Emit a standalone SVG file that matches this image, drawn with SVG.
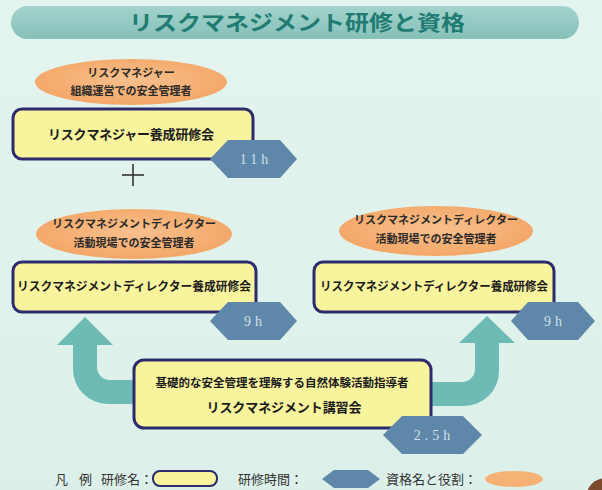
<svg xmlns="http://www.w3.org/2000/svg" width="602" height="490" viewBox="0 0 602 490">
<defs>
<linearGradient id="bg" x1="0" y1="0" x2="0" y2="1">
<stop offset="0" stop-color="#e4f4ef"/>
<stop offset="1" stop-color="#dcf0e9"/>
</linearGradient>
<linearGradient id="bar" x1="0" y1="0" x2="0" y2="1">
<stop offset="0" stop-color="#a3d3cd"/>
<stop offset="1" stop-color="#86c0b9"/>
</linearGradient>
<radialGradient id="ell" cx="0.5" cy="0.45" r="0.6">
<stop offset="0" stop-color="#f8c08e"/>
<stop offset="1" stop-color="#f3a463"/>
</radialGradient>
<style>
.box{fill:#f8f39d;stroke:#2d2b6e;stroke-width:3}
.ell{fill:url(#ell)}
.hex{fill:#5e87a9}
.arrow{fill:#6dbbb4}
.bt{font-family:"Noto Sans CJK JP","Noto Sans",sans-serif;font-weight:bold;fill:#1b1b1b;text-anchor:middle}
.et{font-family:"Noto Sans CJK JP","Noto Sans",sans-serif;font-weight:bold;fill:#2a2a2a;text-anchor:middle;font-size:11px}
.ht{font-family:"Liberation Serif",serif;fill:#d3e0ea;text-anchor:middle;font-size:14px;letter-spacing:4px}
.lt{font-family:"Noto Sans CJK JP","Noto Sans",sans-serif;fill:#333;font-size:13px}
</style>
</defs>
<rect width="602" height="490" fill="url(#bg)"/>
<g id="title">
<rect x="11" y="6" width="568" height="33" rx="16.5" fill="url(#bar)"/>
<text x="297" y="30" font-family="'Noto Sans CJK JP','Noto Sans',sans-serif" font-weight="bold" font-size="21" fill="#1f7c72" text-anchor="middle" textLength="336" lengthAdjust="spacingAndGlyphs">リスクマネジメント研修と資格</text>
</g>
<g id="connectors">
<path class="arrow" d="M57,345 L85,317 L113,345 L97,345 L97,367 A13,13 0 0 0 110,380 L140,380 L140,404 L108,404 A35,35 0 0 1 73,369 L73,345 Z"/>
<path class="arrow" d="M425,382 L462,382 A13,13 0 0 0 475,369 L475,343 L459,343 L487,316 L515,343 L499,343 L499,371 A35,35 0 0 1 464,406 L425,406 Z"/>
<g stroke="#333" stroke-width="1.6"><line x1="122" y1="175" x2="144" y2="175"/><line x1="133" y1="164" x2="133" y2="186"/></g>
</g>
<g id="role1">
<ellipse class="ell" cx="131" cy="82" rx="96" ry="23"/>
<text class="et" x="131" y="77">リスクマネジャー</text>
<text class="et" x="131" y="95">組織運営での安全管理者</text>
</g>
<g id="course1">
<rect class="box" x="13" y="109" width="240" height="50" rx="9"/>
<text class="bt" x="131" y="139" font-size="13" textLength="166" lengthAdjust="spacing">リスクマネジャー養成研修会</text>
</g>
<g id="time1">
<polygon class="hex" points="210,159 228,140 280,140 297,159 280,178 228,178"/>
<text class="ht" x="256" y="164">11h</text>
</g>
<g id="role2">
<ellipse class="ell" cx="134" cy="234" rx="98" ry="25"/>
<text class="et" x="134" y="228">リスクマネジメントディレクター</text>
<text class="et" x="134" y="247">活動現場での安全管理者</text>
</g>
<g id="course2">
<rect class="box" x="13" y="262" width="243" height="50" rx="9"/>
<text class="bt" x="134" y="291" font-size="12" textLength="234" lengthAdjust="spacingAndGlyphs">リスクマネジメントディレクター養成研修会</text>
</g>
<g id="time2">
<polygon class="hex" points="210,321 228,302 280,302 297,321 280,340 228,340"/>
<text class="ht" x="255" y="326">9h</text>
</g>
<g id="role3">
<ellipse class="ell" cx="436" cy="231" rx="97" ry="25"/>
<text class="et" x="436" y="224">リスクマネジメントディレクター</text>
<text class="et" x="436" y="243">活動現場での安全管理者</text>
</g>
<g id="course3">
<rect class="box" x="314" y="262" width="240" height="50" rx="9"/>
<text class="bt" x="434" y="291" font-size="12" textLength="228" lengthAdjust="spacingAndGlyphs">リスクマネジメントディレクター養成研修会</text>
</g>
<g id="time3">
<polygon class="hex" points="511,321 528,302 578,302 595,321 578,340 528,340"/>
<text class="ht" x="555" y="326">9h</text>
</g>
<g id="course4">
<rect class="box" x="134" y="360" width="297" height="68" rx="10"/>
<text class="bt" x="282" y="387" font-size="11.5" textLength="253" lengthAdjust="spacingAndGlyphs">基礎的な安全管理を理解する自然体験活動指導者</text>
<text class="bt" x="284" y="412" font-size="13" textLength="155" lengthAdjust="spacing">リスクマネジメント講習会</text>
</g>
<g id="time4">
<polygon class="hex" points="383,435 402,416 463,416 482,435 463,454 402,454"/>
<text class="ht" x="434" y="440">2.5h</text>
</g>
<g id="legend">
<text class="lt" x="55" y="484">凡</text>
<text class="lt" x="79" y="484">例</text>
<text class="lt" x="101" y="484">研修名：</text>
<rect x="153" y="471" width="64" height="15" rx="7" fill="#f8f39d" stroke="#2d2b6e" stroke-width="2"/>
<text class="lt" x="238" y="484">研修時間：</text>
<polygon class="hex" points="322,479 334,470 368,470 380,479 368,488 334,488"/>
<text class="lt" x="386" y="484">資格名と役割：</text>
<ellipse cx="514" cy="479" rx="29" ry="8" fill="#f6b275"/>
<circle cx="606" cy="498" r="20" fill="#7a4a2c"/>
</g>
</svg>
